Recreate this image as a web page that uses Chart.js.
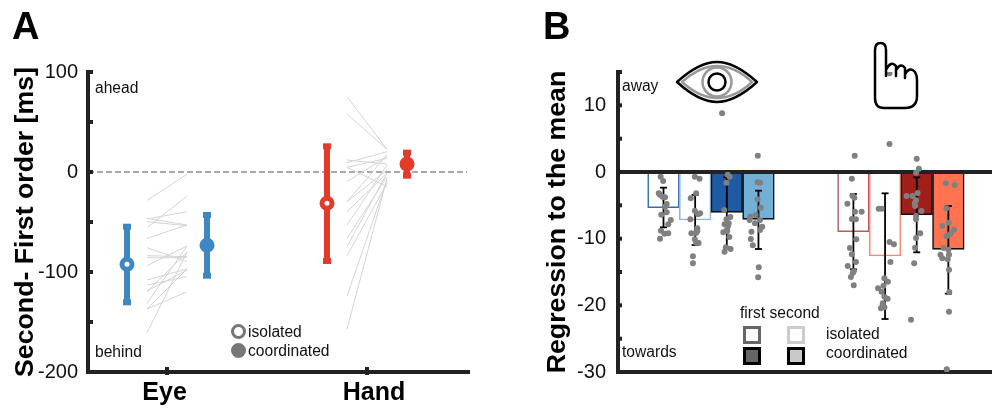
<!DOCTYPE html>
<html>
<head>
<meta charset="utf-8">
<script src="https://cdn.jsdelivr.net/npm/chart.js@4"></script>
<style>
html,body{margin:0;padding:0;background:#fff;width:992px;height:409px;overflow:hidden;font-family:"Liberation Sans",Arial,sans-serif;color:#111}
canvas{position:absolute;top:0}
#a{left:0}#b{left:496px}
.t{position:absolute;font-size:15.6px;line-height:18px;white-space:nowrap}
.h{position:absolute;font-size:38px;font-weight:bold;line-height:40px;color:#000}
.s{position:absolute;width:18px;height:18px;box-sizing:border-box;border:3px solid}
.m{position:absolute;width:15px;height:15px;border-radius:50%;box-sizing:border-box;border:3px solid #777}
svg{position:absolute;left:0;top:0;pointer-events:none}
</style>
</head>
<body>
<canvas id="a" width="496" height="409"></canvas>
<canvas id="b" width="496" height="409"></canvas>
<svg width="992" height="409" fill="none" stroke-linejoin="round" stroke-linecap="round">
  <path d="M682 82Q700 66 717 66Q735 66 752 82Q735 98 717 98Q700 98 682 82Z" stroke="#999" stroke-width="2.5"/>
  <circle cx="717" cy="82" r="14.5" stroke="#999" stroke-width="2.5"/>
  <circle cx="717" cy="82" r="8.5" stroke="#000" stroke-width="2.5"/>
  <path d="M677 82Q699 62 717 62Q735 62 757 82Q735 102 717 102Q699 102 677 82Z" stroke="#000" stroke-width="2.5"/>
  <path d="M875 98L875 50Q875 43 880.5 43Q886 43 886 50L886 76M886 70Q891 60 896 66L896 76M896 70Q901 62 905 68L905 78M905 74Q910 66 915 72Q917 75 917 80L917 96Q917 108 905 108L884 108Q875 108 875 98" stroke="#000" stroke-width="2.5"/>
</svg>
<div class="h" style="left:12px;top:6px">A</div>
<div class="h" style="left:543px;top:6px">B</div>
<div class="t" style="left:95px;top:79px">ahead</div>
<div class="t" style="left:95px;top:343px">behind</div>
<div class="m" style="left:231px;top:324px"></div>
<div class="m" style="left:231px;top:343px;background:#777"></div>
<div class="t" style="left:248px;top:323px">isolated</div>
<div class="t" style="left:248px;top:342px">coordinated</div>
<div class="t" style="left:622px;top:77px">away</div>
<div class="t" style="left:622px;top:343px">towards</div>
<div class="t" style="left:740px;top:304px">first second</div>
<div class="t" style="left:826px;top:325px">isolated</div>
<div class="t" style="left:826px;top:344px">coordinated</div>
<div class="s" style="left:743px;top:326px;border-color:#666;background:#fff"></div>
<div class="s" style="left:787px;top:326px;border-color:#ccc;background:#fff"></div>
<div class="s" style="left:743px;top:347px;border-color:#000;background:#666"></div>
<div class="s" style="left:787px;top:347px;border-color:#000;background:#c8c8c8"></div>
<script>
// ---------- Panel A ----------
const effectors = ['Eye', 'Hand'];
const effectorTicks = [1, 2];
const effectorLabelPositions = [0.988, 2.035];
const panelATickValues = [100, 50, 0, -50, -100, -150, -200];
const meanIsolated = [-92.3, -31.3];
const lowIsolated = [-130.3, -89];
const highIsolated = [-54.7, 25.7];
const meanCoordinated = [-73.3, 8];
const lowCoordinated = [-103.7, -3.7];
const highCoordinated = [-43, 19.3];
const eyeSubjectsIsolated = [-28.3, -55.7, -47, -49.7, -46.3, -66.3, -75.7, -83.7, -85.7, -93.7, -108, -113, -119.7, -119, -131.3, -137, -137, -160.7];
const eyeSubjectsCoordinated = [-2.3, -24, -39.7, -53.7, -53, -53, -89.7, -84.7, -85.7, -74, -97, -104.7, -80.3, -98, -74, -119.7, -97, -80.3];
const handSubjectsIsolated = [75.3, 58, 12, 9.3, 4.7, 4.7, -9.7, -29.7, -29.7, -39.7, -53, -66.3, -74.7, -83.7, -124, -157];
const handSubjectsCoordinated = [22.7, 22.7, 8, 20.3, 13.7, -14.7, 15.3, 17, 2, -1.3, 7, -4.7, -1.3, -11.3, -8, -6.3];
const effectorColors = ['#3f87c2', '#e23b2a'];

// ---------- Panel B ----------
const barPositions = [1, 2, 3, 4, 7, 8, 9, 10];
const barValues = [-5.35, -7.2, -6.05, -7.1, -8.95, -12.6, -6.4, -11.6];
const barFills = ['#ffffff', '#ffffff', '#1f5aa6', '#73b0d8', '#ffffff', '#ffffff', '#a01f1a', '#ff7350'];
const barEdges = ['#3a6aa8', '#8db8dc', '#111111', '#111111', '#b85a5a', '#f08a70', '#111111', '#111111'];
const errorHigh = [-2.35, -3.45, -0.8, -2.8, -3.3, -3.2, -0.8, -5.1];
const errorLow = [-8.3, -10.95, -11.3, -11.55, -14.6, -22.05, -12.05, -18.25];
const dotX = [
  0.91,0.99,0.85,0.89,0.97,1.05,1.10,1.05,1.10,0.93,1.23,1.15,0.92,1.03,1.15,0.89,
  1.99,2.14,2.03,1.86,1.99,2.16,2.09,1.85,2.07,2.07,1.88,2.03,1.99,2.03,2.11,1.93,1.93,
  3.03,3.09,2.99,2.92,3.11,2.99,3.06,2.93,3.04,3.01,2.89,3.01,3.08,2.97,3.12,2.93,2.85,
  3.97,4.05,3.97,4.07,3.91,3.74,3.72,4.05,3.89,4.12,4.05,3.78,3.76,3.82,4.01,3.99,3.98,
  7.04,6.95,6.97,7.03,6.81,7.05,7.26,6.95,7.08,7.09,6.89,6.95,7.08,6.82,7.01,6.98,6.92,7.01,
  8.14,7.80,7.89,8.14,8.28,8.17,7.98,8.09,7.95,7.78,7.89,7.98,8.08,7.93,7.87,7.98,7.92,8.14,
  9.00,9.07,8.98,8.68,8.87,9.03,8.98,8.94,8.95,9.15,8.98,8.98,9.11,8.98,8.95,8.92,8.82,
  9.92,10.2,9.94,10.01,9.81,10.18,10.07,9.94,9.85,10.0,9.75,10.02,9.81,9.98,10.02,10.03,10.02,9.95
];
const dotY = [
  -0.7,-1.35,-3.2,-3.4,-3.7,-3.8,-4.8,-5.2,-6.05,-6.4,-7.2,-7.85,-8.8,-9.25,-9.2,-10,
  -0.7,-1,-3.2,-3.95,-5.8,-6.2,-6.35,-7.1,-8.45,-8.85,-9.2,-9.15,-10.1,-10.6,-10.65,-12.65,-13.7,
  -0.4,-0.7,-1.6,-5.7,-6.75,-7.1,-7.7,-7.85,-8.05,-8.6,-9.05,-8.9,-9.75,-11.3,-11.55,-11.95,8.8,
  -1.55,-1.6,-4.1,-5.35,-6.45,-6.7,-7.2,-7.2,-7.7,-8.2,-8.7,-8.95,-10.05,-11,-14.3,-15.8,2.45,
  2.45,-1,-3.55,-3.85,-4.75,-5.95,-5.95,-7.05,-7.1,-10.1,-11.4,-12.35,-13.5,-14.1,-14.9,-15.15,-15.75,-17,
  4.2,-5.5,-5.5,-10.5,-10.85,-13.5,-15.95,-16.45,-17.05,-17.45,-17.95,-18.7,-19,-19.7,-20.45,-20.3,-20.1,14.8,
  2,0.5,-0.1,-3.6,-3.6,-3.15,-4.25,-4.7,-5.1,-5.85,-6.6,-7.1,-9.2,-9.9,-11.35,-13.7,-22.15,
  -1.7,-1.95,-5.45,-7.6,-8.1,-8.65,-9.25,-9.6,-11.4,-11.65,-12.4,-12.4,-12.95,-13.1,-14.65,-18,-20.95,-29.6
];
const panelBTickValues = [15, 10, 5, 0, -5, -10, -15, -20, -25, -30];
const panelBLabelled = [10, 0, -10, -20, -30];

const INK = '#222';
const FONT = '"Liberation Sans", Arial, sans-serif';

function innerTicks(opts) {
  return {
    id: 'innerTicks',
    afterDraw(chart) {
      const c = chart.ctx, y = chart.scales.y, x = chart.scales.x;
      c.save();
      c.fillStyle = INK;
      y.ticks.forEach(t => {
        const p = y.getPixelForValue(t.value);
        c.fillRect(chart.chartArea.left - 2, p - 2, opts.yLen, 4);
      });
      (opts.xTicks || []).forEach(v => {
        c.fillRect(x.getPixelForValue(v) - 2, chart.chartArea.bottom - 5, 4, 8);
      });
      c.restore();
    }
  };
}

function errorDataset(px, lo, hi, color, width, capRadius, capWidth, order) {
  return {
    type: 'line',
    data: [{x: px, y: lo}, {x: px, y: hi}],
    borderColor: color,
    borderWidth: width,
    pointStyle: 'line',
    pointRadius: capRadius,
    pointBorderWidth: capWidth,
    pointBorderColor: color,
    pointBackgroundColor: color,
    order
  };
}

function pairDatasets(center, lefts, rights) {
  return lefts.map((v, i) => ({
    type: 'line',
    data: [{x: center - 0.1, y: v}, {x: center + 0.1, y: rights[i]}],
    borderColor: '#d4d4d4',
    borderWidth: 1,
    pointRadius: 0,
    order: 4
  }));
}

const aSets = [];
aSets.push({
  type: 'line',
  data: [{x: 0.605, y: 0}, {x: 2.5, y: 0}],
  borderColor: '#555',
  borderWidth: 1.2,
  borderDash: [6, 3],
  pointRadius: 0,
  order: 5
});
aSets.push(...pairDatasets(effectorTicks[0], eyeSubjectsIsolated, eyeSubjectsCoordinated));
aSets.push(...pairDatasets(effectorTicks[1], handSubjectsIsolated, handSubjectsCoordinated));
effectorTicks.forEach((c, i) => {
  const col = effectorColors[i];
  aSets.push(errorDataset(c - 0.2, lowIsolated[i], highIsolated[i], col, 6, 4, 6, 3));
  aSets.push(errorDataset(c + 0.2, lowCoordinated[i], highCoordinated[i], col, 6, 4, 6, 3));
  aSets.push({
    type: 'line', showLine: false, order: 1,
    data: [{x: c - 0.2, y: meanIsolated[i]}],
    pointRadius: 5, pointBorderWidth: 5,
    pointBackgroundColor: '#fff', pointBorderColor: col
  });
  aSets.push({
    type: 'line', showLine: false, order: 1,
    data: [{x: c + 0.2, y: meanCoordinated[i]}],
    pointRadius: 7.5, pointBorderWidth: 0,
    pointBackgroundColor: col, pointBorderColor: col
  });
});

new Chart(document.getElementById('a'), {
  type: 'line',
  data: {datasets: aSets},
  plugins: [innerTicks({yLen: 7, xTicks: effectorTicks})],
  options: {
    responsive: false, animation: false,
    layout: {autoPadding: false, padding: {top: 72, right: 27, bottom: 0, left: 0}},
    plugins: {legend: {display: false}, tooltip: {enabled: false}},
    scales: {
      x: {
        type: 'linear', min: 0.605, max: 2.51,
        afterBuildTicks: ax => { ax.ticks = effectorLabelPositions.map(v => ({value: v})); },
        afterFit: ax => { ax.height = 37; },
        grid: {display: false, drawTicks: false},
        border: {color: INK, width: 4},
        ticks: {
          autoSkip: false, maxRotation: 0, padding: 6, color: '#000',
          font: {family: FONT, size: 25, weight: 'bold'},
          callback: (v, i) => effectors[i]
        }
      },
      y: {
        min: -200, max: 100,
        afterBuildTicks: ax => { ax.ticks = panelATickValues.map(v => ({value: v})); },
        afterFit: ax => { ax.width = 88; },
        grid: {display: false, drawTicks: false},
        border: {color: INK, width: 4},
        ticks: {
          autoSkip: false, padding: 10, color: '#111',
          font: {family: FONT, size: 20},
          callback: v => (v % 100 === 0 ? String(v) : '')
        },
        title: {
          display: true, text: 'Second- First order [ms]', color: '#000',
          padding: {top: 10, bottom: 0},
          font: {family: FONT, size: 26.7, weight: 'bold'}
        }
      }
    }
  }
});

const bSets = [];
bSets.push({
  type: 'bar',
  data: barPositions.map((x, i) => ({x, y: barValues[i]})),
  backgroundColor: barFills,
  borderColor: barEdges,
  borderWidth: 1.6,
  borderSkipped: false,
  barPercentage: 1,
  categoryPercentage: 1,
  order: 5
});
bSets.push({
  type: 'line',
  data: [{x: -0.4376, y: 0}, {x: 11.379, y: 0}],
  borderColor: INK,
  borderWidth: 4,
  pointRadius: 0,
  order: 4
});
barPositions.forEach((x, i) => {
  bSets.push(errorDataset(x, errorLow[i], errorHigh[i], '#000', 1.8, 3.5, 1.8, 3));
});
bSets.push({
  type: 'line', showLine: false, order: 1,
  data: dotX.map((x, i) => ({x, y: dotY[i]})),
  pointRadius: 3, pointBorderWidth: 0,
  pointBackgroundColor: '#808080'
});

new Chart(document.getElementById('b'), {
  type: 'bar',
  data: {datasets: bSets},
  plugins: [innerTicks({yLen: 6})],
  options: {
    responsive: false, animation: false,
    layout: {autoPadding: false, padding: {top: 72, right: 0, bottom: 0, left: 0}},
    plugins: {legend: {display: false}, tooltip: {enabled: false}},
    scales: {
      x: {
        type: 'linear', offset: false, min: -0.4376, max: 11.379,
        afterFit: ax => { ax.height = 37; },
        grid: {display: false, drawTicks: false, offset: false},
        border: {color: INK, width: 4},
        ticks: {display: false}
      },
      y: {
        min: -30, max: 15,
        afterBuildTicks: ax => { ax.ticks = panelBTickValues.map(v => ({value: v})); },
        afterFit: ax => { ax.width = 122; },
        grid: {display: false, drawTicks: false},
        border: {color: INK, width: 4},
        ticks: {
          autoSkip: false, padding: 12, color: '#111',
          font: {family: FONT, size: 20},
          callback: v => (panelBLabelled.includes(v) ? String(v) : '')
        },
        title: {
          display: true, text: 'Regression to the mean', color: '#000',
          padding: {top: 46, bottom: 0},
          font: {family: FONT, size: 26.7, weight: 'bold'}
        }
      }
    }
  }
});
</script>
</body>
</html>
